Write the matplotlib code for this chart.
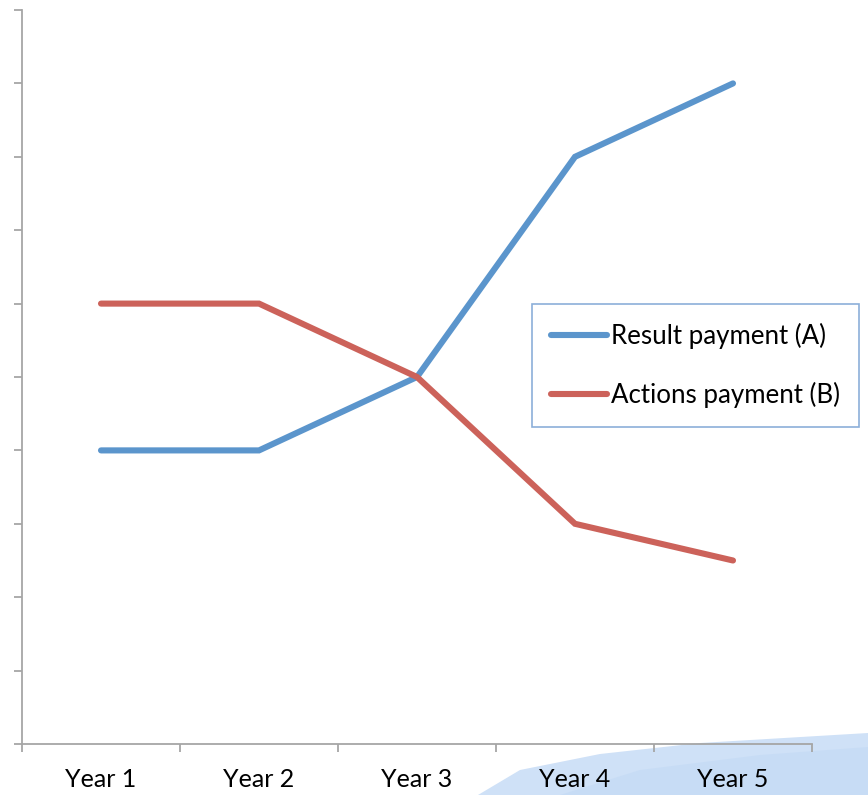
import matplotlib.pyplot as plt
from matplotlib.patches import Polygon
import numpy as np

# data
years = ["Year 1", "Year 2", "Year 3", "Year 4", "Year 5"]
result_payment = [4, 4, 5, 8, 9]
actions_payment = [6, 6, 5, 3, 2.5]

plt.rcParams['font.family'] = ['Lato', 'DejaVu Sans']

fig = plt.figure(figsize=(8.68, 7.95), dpi=100)

# background layer with the light blue swoosh (bottom right)
bg = fig.add_axes([0, 0, 1, 1], zorder=-1)
bg.set_xlim(0, 868)
bg.set_ylim(0, 795)
bg.axis('off')
bg.add_patch(Polygon([(478, 0), (520, 25), (600, 41), (700, 52), (868, 62), (868, 0)],
                     closed=True, facecolor='#cfe1f7', edgecolor='none'))
bg.add_patch(Polygon([(560, 0), (640, 25), (760, 40), (868, 48), (868, 0)],
                     closed=True, facecolor='#c2d9f5', edgecolor='none', alpha=0.6))

ax = fig.add_axes([22/868, 1 - 744/795, 790/868, 734/795])
ax.patch.set_alpha(0)

x = np.arange(len(years))
ax.plot(x, result_payment, color='#5b95cc', lw=4.4, solid_capstyle='round',
        solid_joinstyle='miter', label='Result payment (A)')
ax.plot(x, actions_payment, color='#cc625a', lw=4.4, solid_capstyle='round',
        solid_joinstyle='miter', label='Actions payment (B)')

ax.set_xlim(-0.5, 4.5)
ax.set_ylim(0, 10)

for s in ['top', 'right']:
    ax.spines[s].set_visible(False)
for s in ['left', 'bottom']:
    ax.spines[s].set_color('#a6a6a6')
    ax.spines[s].set_linewidth(1.3)

ax.set_yticks(np.arange(0, 11, 1))
ax.set_yticklabels([])
ax.tick_params(axis='y', length=6, width=1.3, color='#a6a6a6', direction='out')

ax.set_xticks(x)
ax.set_xticklabels(years, fontsize=18)
ax.set_xticks(np.arange(-0.5, 5, 1), minor=True)
ax.tick_params(axis='x', which='major', length=0, pad=17)
ax.tick_params(axis='x', which='minor', length=6, width=1.3, color='#a6a6a6', direction='out')

leg = ax.legend(loc='upper left', bbox_to_anchor=(532/868, 1 - 304/795),
                bbox_transform=fig.transFigure, fontsize=18.6, frameon=True,
                fancybox=False, handlelength=2.2, handletextpad=0.15,
                labelspacing=1.3, borderpad=0.72, borderaxespad=0)
leg.get_frame().set_edgecolor('#6f9bd0')
leg.get_frame().set_linewidth(1.2)
leg.get_frame().set_boxstyle('square', pad=0)

fig.savefig('out.png', dpi=100)
